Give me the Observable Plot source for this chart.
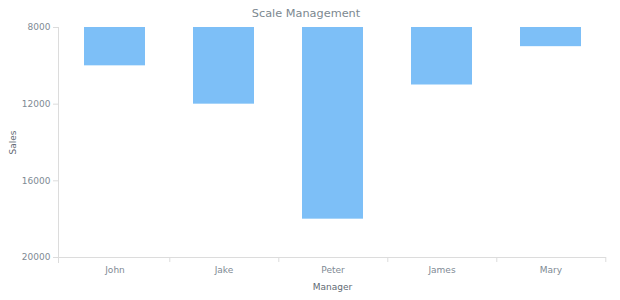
<!DOCTYPE html>
<html><head><meta charset="utf-8">
<script src="https://cdn.jsdelivr.net/npm/d3@7"></script>
<script src="https://cdn.jsdelivr.net/npm/@observablehq/plot@0.6"></script>
<style>
body{margin:0;background:#fff;font-family:"DejaVu Sans",sans-serif;}
#title{width:612px;height:20px;line-height:28px;text-align:center;font-size:11.3px;color:#7c8890;}
g[aria-label="x-axis label"] text, g[aria-label="y-axis label"] text{fill:#5f6a74;}
</style></head>
<body>
<div id="title">Scale Management</div>
<div id="chart"></div>
<script>
const managers = ["John", "Jake", "Peter", "James", "Mary"];
const sales = [10000, 12000, 18000, 11000, 9000];
const yTicks = [8000, 12000, 16000, 20000];
const yMin = 8000, yMax = 20000;

const data = managers.map((m, i) => ({manager: m, sales: sales[i]}));
const W = 620, H = 280, ML = 58, MR = 14, MT = 7, MB = 43;
const half = (W - ML - MR) / managers.length / 2;
const grey = "#dcdcdc";
const txt = "#808a94";

const chart = Plot.plot({
  width: W, height: H,
  marginLeft: ML, marginRight: MR, marginTop: MT, marginBottom: MB,
  style: {fontFamily: "DejaVu Sans, sans-serif", fontSize: "9px", color: txt, background: "#fff"},
  x: {domain: managers, padding: 0},
  y: {domain: [yMin, yMax], reverse: true},
  marks: [
    Plot.barY(data, {x: "manager", y1: yMin, y2: "sales", fill: "#7dbff7", insetLeft: 24, insetRight: 24}),
    Plot.ruleY([yMax], {stroke: grey}),
    Plot.ruleX(managers, {x: d => d, y1: yMax, y2: yMax, insetBottom: -5, dx: half, stroke: grey}),
    Plot.frame({anchor: "left", stroke: grey, insetBottom: -5}),
    Plot.axisY({ticks: yTicks, tickFormat: d3.format("d"), tickSize: 5, tickPadding: 3, stroke: grey,
      label: "Sales", labelAnchor: "center", labelArrow: false, labelOffset: 49, color: txt}),
    Plot.axisX({tickSize: 0, tickPadding: 9, label: "Manager", labelAnchor: "center", labelArrow: false, labelOffset: 32, color: txt})
  ]
});
document.getElementById("chart").appendChild(chart);
</script>
</body></html>
